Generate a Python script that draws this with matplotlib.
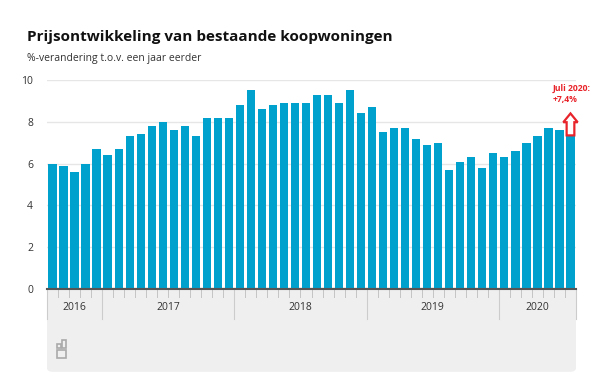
import matplotlib.pyplot as plt
from matplotlib.patches import FancyBboxPatch, Rectangle, FancyArrow
import matplotlib.transforms as mtransforms
import numpy as np

# Jaar-op-jaar prijsontwikkeling, aug 2016 t/m jul 2020
years = ["2016", "2017", "2018", "2019", "2020"]
months_per_year = [5, 12, 12, 12, 7]
values = [6.0, 5.9, 5.6, 6.0, 6.7,
          6.4, 6.7, 7.3, 7.4, 7.8, 8.0, 7.6, 7.8, 7.3, 8.2, 8.2, 8.2,
          8.8, 9.5, 8.6, 8.8, 8.9, 8.9, 8.9, 9.3, 9.3, 8.9, 9.5, 8.4,
          8.7, 7.5, 7.7, 7.7, 7.2, 6.9, 7.0, 5.7, 6.1, 6.3, 5.8, 6.5,
          6.3, 6.6, 7.0, 7.3, 7.7, 7.6, 7.4]
yticks = [0, 2, 4, 6, 8, 10]

W, H = 600, 388
fig = plt.figure(figsize=(6, 3.88), dpi=100)
plt.rcParams['font.family'] = ['Open Sans', 'DejaVu Sans']

def fx(px):
    return px / W

def fy(py):
    return 1 - py / H

# gray panel under the axis
fig.patches.append(FancyBboxPatch((fx(47) + 0.005, fy(373) + 0.008), fx(529) - 0.01, fy(289) - fy(373) - 0.008,
                                  boxstyle="round,pad=0.005,rounding_size=0.01", transform=fig.transFigure,
                                  facecolor="#efefef", edgecolor="none", zorder=0))
fig.patches.append(Rectangle((fx(47), fy(350)), fx(529), fy(289) - fy(350),
                             transform=fig.transFigure, facecolor="#efefef", edgecolor="none", zorder=0))

ax = fig.add_axes([fx(47), fy(289), fx(529), (289 - 80) / H])
ax.set_zorder(2)
ax.set_facecolor("none")
x = np.arange(len(values))
ax.bar(x, values, width=0.75, color="#00a1cd", zorder=3)
ax.set_xlim(-0.5, len(values) - 0.5)
ax.set_ylim(0, 10)
ax.set_yticks(yticks)
ax.set_yticklabels([str(t) for t in yticks])
ax.tick_params(axis="y", length=0, pad=10, labelsize=7.5, labelcolor="#333333")
ax.set_xticks([])
for s in ["top", "right", "left"]:
    ax.spines[s].set_visible(False)
ax.spines["bottom"].set_color("#555555")
ax.spines["bottom"].set_linewidth(1.5)
ax.spines["bottom"].set_zorder(5)
for t in yticks[1:]:
    ax.axhline(t, color="#e6e6e6", lw=1, zorder=1)

# month ticks and year separators
trans = mtransforms.blended_transform_factory(ax.transData, ax.transAxes)
ax_h = 289 - 80
for b in np.arange(-0.5, len(values), 1.0):
    ax.plot([b, b], [0, -8 / ax_h], transform=trans, color="#c4c4c4", lw=0.7, clip_on=False)
bounds = np.concatenate([[0], np.cumsum(months_per_year)]) - 0.5
for b in bounds:
    ax.plot([b, b], [0, -30 / ax_h], transform=trans, color="#cccccc", lw=0.8, clip_on=False)
for i, yr in enumerate(years):
    ax.text((bounds[i] + bounds[i + 1]) / 2, -18 / ax_h, yr, transform=trans,
            ha="center", va="center", fontsize=7.5, color="#333333")

# annotation
lab_x = len(values) - 2.65
ax.text(lab_x, 9.58, "Juli 2020:", ha="left", va="center", fontsize=6.2,
        color="#e8232a", fontweight="bold", clip_on=False)
ax.text(lab_x, 9.05, "+7,4%", ha="left", va="center", fontsize=6.2,
        color="#e8232a", fontweight="bold", clip_on=False)
arr = FancyArrow(len(values) - 1, values[-1] - 0.05, 0, 1.05, width=0.7, head_width=1.3,
                 head_length=0.42, length_includes_head=True, facecolor="white",
                 edgecolor="#e8232a", lw=1.6, zorder=6, clip_on=False)
ax.add_patch(arr)

# titles
fig.text(fx(27), fy(37), "Prijsontwikkeling van bestaande koopwoningen", fontsize=11,
         fontweight="bold", color="#111111", va="center", ha="left")
fig.text(fx(27), fy(58), "%-verandering t.o.v. een jaar eerder", fontsize=7.5,
         color="#333333", va="center", ha="left")

# simple cbs logo mark
lx, ly = 57, 340
for (x0, y0, w, h) in [(lx, ly + 4, 4, 4), (lx + 5, ly, 4, 8), (lx, ly + 10, 9, 8)]:
    fig.patches.append(Rectangle((fx(x0), fy(y0 + h)), fx(w), fy(y0) - fy(y0 + h), transform=fig.transFigure,
                                 facecolor="none", edgecolor="#aaaaaa", lw=1.2, zorder=1))

fig.savefig("out.png", dpi=100, facecolor="white")
